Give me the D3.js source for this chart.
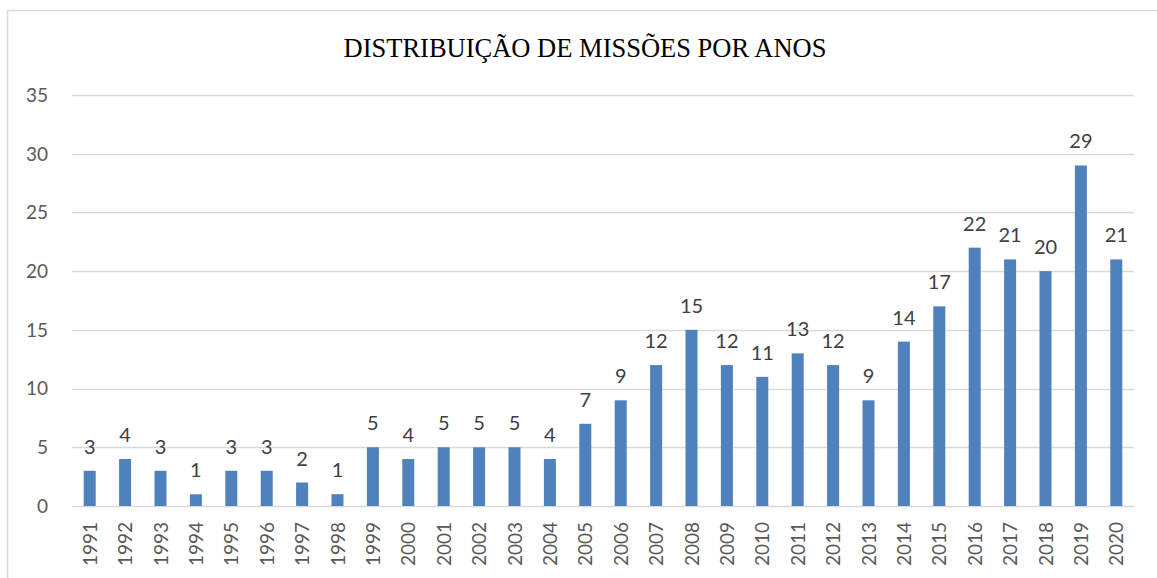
<html>
  <head>
    <meta charset="utf-8">
    <title>Missões por anos</title>
    <style>
      body { margin: 0; background: #fff; }
      svg { display: block; }
    </style>
  </head>
  <body>
    <script src="https://d3js.org/d3.v7.min.js"></script>
    <script>
    // dados
    var anos = ["1991","1992","1993","1994","1995","1996","1997","1998","1999","2000",
                "2001","2002","2003","2004","2005","2006","2007","2008","2009","2010",
                "2011","2012","2013","2014","2015","2016","2017","2018","2019","2020"];
    var missoes = [3,4,3,1,3,3,2,1,5,4,
                   5,5,5,4,7,9,12,15,12,11,
                   13,12,9,14,17,22,21,20,29,21];
    var yTicks = [0,5,10,15,20,25,30,35];
    var titulo = "DISTRIBUIÇÃO DE MISSÕES POR ANOS";

    var width = 1157, height = 578;
    var plotL = 72, plotR = 1134, plotT = 95, plotB = 506;

    var svg = d3.select("body").append("svg")
        .attr("width", width)
        .attr("height", height);

    // moldura
    svg.append("rect")
        .attr("x", 7.5).attr("y", 10.5)
        .attr("width", 1160).attr("height", 580)
        .attr("fill", "none")
        .attr("stroke", "#d9d9d9")
        .attr("stroke-width", 1.5);

    var x = d3.scaleBand().domain(anos).range([plotL, plotR]);
    var y = d3.scaleLinear().domain([0, 35]).range([plotB, plotT]);

    // grelha
    svg.append("g").selectAll("line")
        .data(yTicks)
        .enter().append("line")
        .attr("x1", plotL).attr("x2", plotR)
        .attr("y1", function(d){ return Math.round(y(d)) + 0.5; })
        .attr("y2", function(d){ return Math.round(y(d)) + 0.5; })
        .attr("stroke", "#d9d9d9")
        .attr("stroke-width", 1.3);

    // eixo y
    svg.append("g").selectAll("text")
        .data(yTicks)
        .enter().append("text")
        .attr("x", 48)
        .attr("y", function(d){ return y(d); })
        .attr("dy", "0.36em")
        .attr("text-anchor", "end")
        .attr("font-family", "Lato, 'Open Sans', sans-serif")
        .attr("font-size", 19)
        .attr("fill", "#595959")
        .text(function(d){ return d; });

    // barras
    var bw = 12;
    svg.append("g").selectAll("rect")
        .data(missoes)
        .enter().append("rect")
        .attr("x", function(d, i){ return x(anos[i]) + x.bandwidth()/2 - bw/2; })
        .attr("y", function(d){ return y(d); })
        .attr("width", bw)
        .attr("height", function(d){ return plotB - y(d); })
        .attr("fill", "#4f81bd");

    // rótulos de valores
    svg.append("g").selectAll("text")
        .data(missoes)
        .enter().append("text")
        .attr("x", function(d, i){ return x(anos[i]) + x.bandwidth()/2; })
        .attr("y", function(d){ return y(d) - 17; })
        .attr("text-anchor", "middle")
        .attr("font-family", "Lato, 'Open Sans', sans-serif")
        .attr("font-size", 20)
        .attr("fill", "#404040")
        .text(function(d){ return d; });

    // eixo x (rodado)
    svg.append("g").selectAll("text")
        .data(anos)
        .enter().append("text")
        .attr("transform", function(d){
            return "translate(" + (x(d) + x.bandwidth()/2 + 7) + "," + 522 + ") rotate(-90)";
        })
        .attr("text-anchor", "end")
        .attr("font-family", "Lato, 'Open Sans', sans-serif")
        .attr("font-size", 19)
        .attr("fill", "#595959")
        .text(function(d){ return d; });

    // título
    svg.append("text")
        .attr("x", 585)
        .attr("y", 57)
        .attr("text-anchor", "middle")
        .attr("font-family", "'Liberation Serif', 'Times New Roman', serif")
        .attr("font-size", 26.5)
        .attr("fill", "#000")
        .text(titulo);
    </script>
  </body>
</html>
